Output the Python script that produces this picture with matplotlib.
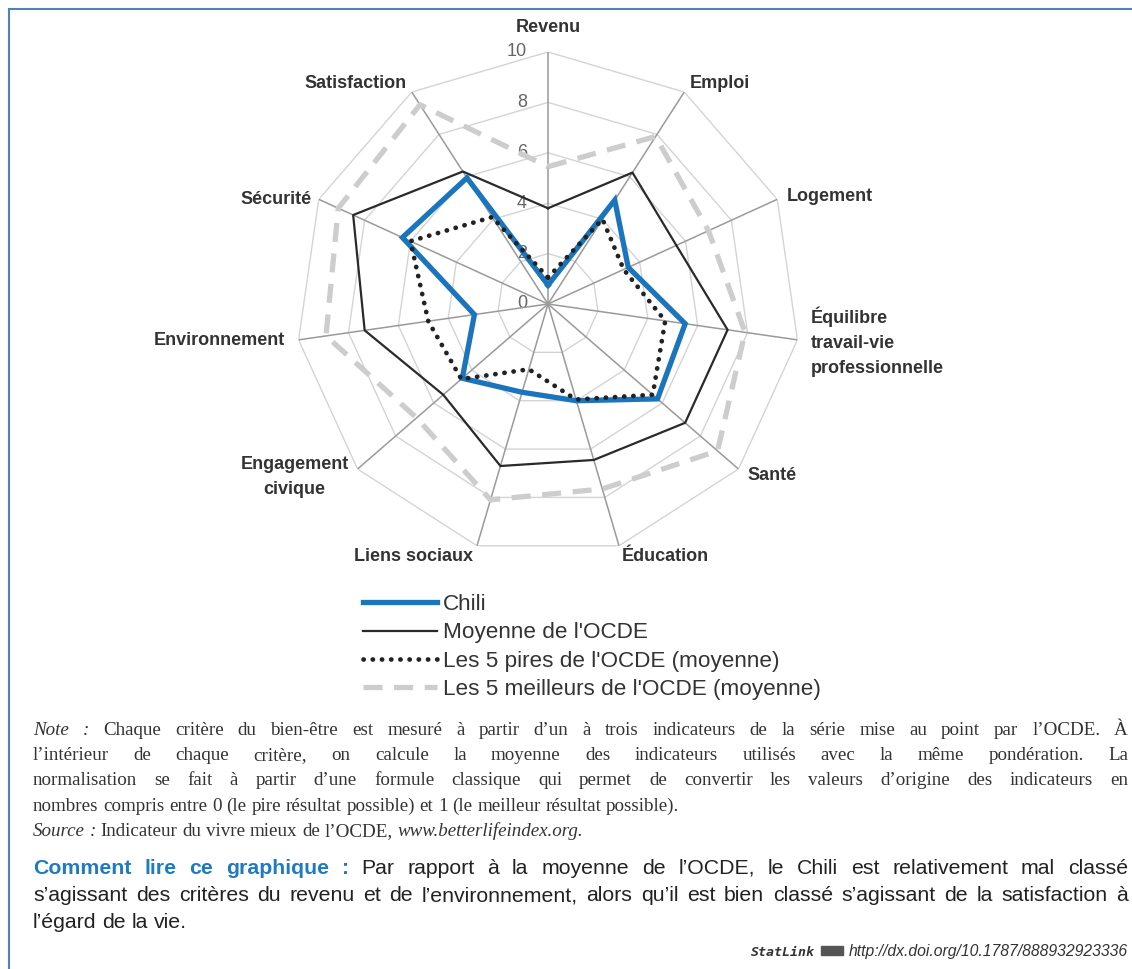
import numpy as np
import matplotlib.pyplot as plt
from matplotlib.lines import Line2D
from matplotlib.patches import Rectangle

# Data (scale 0-10)
categories = ['Revenu', 'Emploi', 'Logement', 'Équilibre\ntravail-vie\nprofessionnelle', 'Santé',
              'Éducation', 'Liens sociaux', 'Engagement\ncivique', 'Environnement', 'Sécurité',
              'Satisfaction']
chili = [0.75, 4.9, 3.5, 5.5, 5.75, 4.0, 3.65, 4.5, 2.95, 6.35, 5.95]
ocde = [3.8, 6.2, 5.6, 7.2, 7.2, 6.45, 6.7, 5.5, 7.35, 8.5, 6.25]
pires = [1.05, 4.0, 3.3, 4.7, 5.5, 3.95, 2.7, 4.55, 4.8, 6.0, 4.1]
meilleurs = [5.45, 7.9, 7.0, 7.9, 8.9, 7.65, 8.1, 6.9, 8.9, 9.15, 9.4]
ticks = [0, 2, 4, 6, 8, 10]
series_names = ['Chili', "Moyenne de l'OCDE", "Les 5 pires de l'OCDE (moyenne)",
                "Les 5 meilleurs de l'OCDE (moyenne)"]

W, H = 1132, 969
SANS = ['Liberation Sans', 'DejaVu Sans']
SERIF = ['Liberation Serif', 'DejaVu Serif']

fig = plt.figure(figsize=(W / 100, H / 100), dpi=100)
fig.patch.set_facecolor('white')

# radar centre (548, 304) px, radius 252 px
cx, cy, R = 548, 304, 252
ax = fig.add_axes([(cx - R) / W, (H - cy - R) / H, 2 * R / W, 2 * R / H], projection='polar')
ax.set_theta_offset(np.pi / 2)
ax.set_theta_direction(-1)
ax.set_ylim(0, 10)
ax.axis('off')

n = len(categories)
theta = np.arange(n) * 2 * np.pi / n
theta_c = np.append(theta, theta[0])


def closed(v):
    return np.append(v, v[0])


# polygon grid and spokes
for t in ticks[1:]:
    ax.plot(theta_c, [t] * (n + 1), color='#d4d4d4', lw=1.0, zorder=1)
for th in theta:
    ax.plot([th, th], [0, 10], color='#9a9a9a', lw=1.1, zorder=1.5)

l_best, = ax.plot(theta_c, closed(meilleurs), color='#cdcdcd', lw=3.8, dashes=(3.6, 2.2), zorder=2)
l_ocde, = ax.plot(theta_c, closed(ocde), color='#2a2a2a', lw=1.6, zorder=3)
l_chili, = ax.plot(theta_c, closed(chili), color='#1b75bc', lw=3.8, zorder=4, solid_joinstyle='miter')
l_worst, = ax.plot(theta_c, closed(pires), color='#222222', lw=3.4, linestyle=(0, (0.05, 1.9)),
                   dash_capstyle='round', zorder=5)

# tick values along the Revenu axis
for t in ticks:
    ax.annotate(str(t), xy=(0, t), xytext=(-21, 0), textcoords='offset pixels', ha='right',
                va='center', fontsize=13, color='#666666', family=SANS, zorder=0.5)

# category labels: offsets in pixels from spoke ends
label_pos = [((0, 25), 'center'), ((6, 9), 'left'), ((10, 3), 'left'), ((13, -2), 'left'),
             ((9, -6), 'left'), ((3, -11), 'left'), ((-4, -11), 'right'), ((-9, -8), 'right'),
             ((-14, -1), 'right'), ((-7, 0), 'right'), ((-5, 9), 'right')]
for th, lab, (off, ha) in zip(theta, categories, label_pos):
    ax.annotate(lab, xy=(th, 10), xytext=off, textcoords='offset pixels', ha=ha, va='center',
                multialignment='center' if 'civique' in lab else ha,
                fontsize=13, fontweight='bold', color='#333333', family=SANS, linespacing=1.62,
                annotation_clip=False)

# legend
leg = fig.legend([l_chili, l_ocde, l_worst, l_best], series_names, loc='upper left',
                 bbox_to_anchor=(363 / W, 1 - 594 / H), frameon=False, borderpad=0,
                 borderaxespad=0, handlelength=3.3, handletextpad=0.25, labelspacing=0.33,
                 prop={'family': SANS, 'size': 16.2})
for txt in leg.get_texts():
    txt.set_color('#333333')

# blue frame at top and left
fig.add_artist(Line2D([9 / W, 1], [1 - 9 / H, 1 - 9 / H], color='#4f81bd', lw=1.5))
fig.add_artist(Line2D([9 / W, 9 / W], [0, 1 - 9 / H], color='#4f81bd', lw=1.5))

renderer = fig.canvas.get_renderer()


def text_line(segments, y, x0=33, x1=1128, justify=True):
    words = []
    for txt, props in segments:
        for w in txt.split(' '):
            if w:
                words.append((w, props))
    arts = [fig.text(0, 1 - y / H, w, va='baseline', **p) for w, p in words]
    widths = [a.get_window_extent(renderer).width for a in arts]
    if justify and len(arts) > 1:
        gap = (x1 - x0 - sum(widths)) / (len(arts) - 1)
    else:
        p = words[0][1]
        a = fig.text(0, 0, 'x x', **p)
        b = fig.text(0, 0, 'xx', **p)
        gap = a.get_window_extent(renderer).width - b.get_window_extent(renderer).width
        a.remove()
        b.remove()
    x = x0
    for a, w in zip(arts, widths):
        a.set_x(x / W)
        x += w + gap


note = dict(family=SERIF, fontsize=13.7, color='#333333')
note_it = dict(note, style='italic')
text_line([('Note :', note_it), ('Chaque critère du bien-être est mesuré à partir d’un à trois indicateurs '
                                  'de la série mise au point par l’OCDE. À', note)], 735)
text_line([('l’intérieur de chaque critère, on calcule la moyenne des indicateurs utilisés avec la même '
            'pondération. La', note)], 760)
text_line([('normalisation se fait à partir d’une formule classique qui permet de convertir les valeurs '
            'd’origine des indicateurs en', note)], 785)
text_line([('nombres compris entre 0 (le pire résultat possible) et 1 (le meilleur résultat possible).', note)],
          811, justify=False)
text_line([('Source :', note_it), ('Indicateur du vivre mieux de l’OCDE,', note),
           ('www.betterlifeindex.org.', note_it)], 836, justify=False)

body = dict(family=SANS, fontsize=15.3, color='#222222')
head = dict(body, color='#1f7bc1', fontweight='bold')
text_line([('Comment lire ce graphique :', head),
           ('Par rapport à la moyenne de l’OCDE, le Chili est relativement mal classé', body)], 874)
text_line([('s’agissant des critères du revenu et de l’environnement, alors qu’il est bien classé '
            's’agissant de la satisfaction à', body)], 901)
text_line([('l’égard de la vie.', body)], 928, justify=False)

# StatLink line, right aligned
fig.text(1128 / W, 1 - 956 / H, 'http://dx.doi.org/10.1787/888932923336', ha='right', va='baseline',
         family=SANS, style='italic', fontsize=11.3, color='#333333')
fig.text(815 / W, 1 - 956 / H, 'StatLink', ha='right', va='baseline', family='DejaVu Sans Mono',
         style='italic', fontweight='bold', fontsize=9.5, color='#333333')
fig.add_artist(Rectangle((821 / W, 1 - 955 / H), 22 / W, 9 / H, color='#555555'))

fig.savefig('out.png', dpi=100)
